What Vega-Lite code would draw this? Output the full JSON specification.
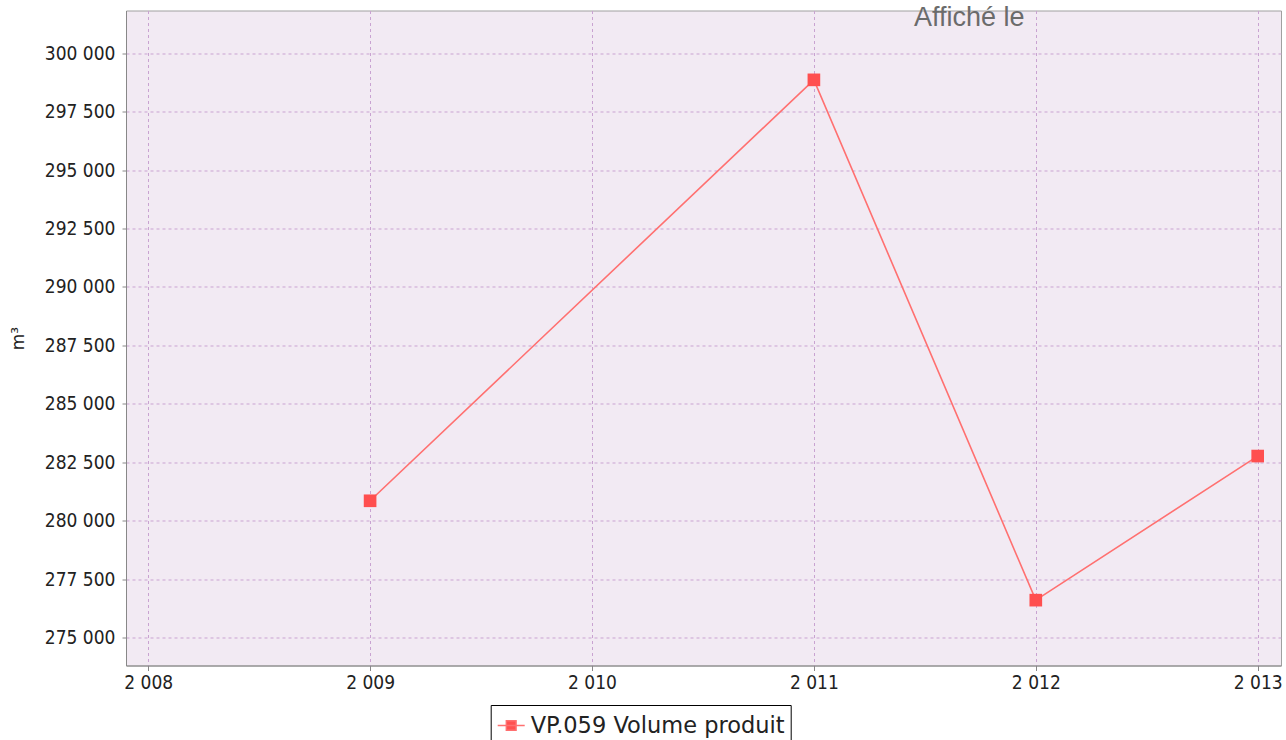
{
  "$schema": "https://vega.github.io/schema/vega-lite/v6.json",
  "width": 1155,
  "height": 655,
  "autosize": {"type": "none"},
  "padding": {"left": 126, "top": 10.5, "right": 5, "bottom": 74.5},
  "background": "white",
  "title": {
    "text": "Affiché le",
    "anchor": "start",
    "frame": "group",
    "orient": "top",
    "baseline": "alphabetic",
    "offset": -16,
    "dx": 788,
    "dy": 26,
    "font": "Liberation Sans",
    "fontSize": 27,
    "fontWeight": "normal",
    "color": "#6b6b6b"
  },
  "data": {
    "values": [
      {"annee": 2009, "volume": 280848, "serie": "VP.059 Volume produit"},
      {"annee": 2011, "volume": 298857, "serie": "VP.059 Volume produit"},
      {"annee": 2012, "volume": 276597, "serie": "VP.059 Volume produit"},
      {"annee": 2013, "volume": 282762, "serie": "VP.059 Volume produit"}
    ]
  },
  "encoding": {
    "x": {
      "field": "annee",
      "type": "quantitative",
      "scale": {"domain": [2007.9, 2013.105], "nice": false, "zero": false},
      "axis": {
        "values": [2008, 2009, 2010, 2011, 2012, 2013],
        "labelExpr": "replace(format(datum.value, ',d'), ',', ' ')",
        "title": null,
        "tickSize": 5,
        "labelPadding": 3,
        "labelFlush": false,
        "labelOverlap": false
      }
    },
    "y": {
      "field": "volume",
      "type": "quantitative",
      "scale": {"domain": [273801, 301824], "nice": false, "zero": false},
      "axis": {
        "values": [275000, 277500, 280000, 282500, 285000, 287500, 290000, 292500, 295000, 297500, 300000],
        "labelExpr": "replace(format(datum.value, ',d'), ',', ' ')",
        "title": "m³",
        "titleX": -99,
        "titleFontSize": 17,
        "titleFontWeight": "normal",
        "titleFont": "DejaVu Sans",
        "titleColor": "#222",
        "tickSize": 4,
        "labelPadding": 7
      }
    }
  },
  "layer": [
    {
      "mark": {"type": "line", "strokeWidth": 1.6},
      "encoding": {
        "color": {
          "field": "serie",
          "type": "nominal",
          "scale": {"range": ["#ff7070"]},
          "legend": {
            "title": null,
            "orient": "none",
            "legendX": 364.7,
            "legendY": 694.5,
            "strokeColor": "#000",
            "fillColor": "white",
            "padding": 6,
            "symbolType": "M -1 0 L 1 0 M -0.36 -0.36 L 0.36 -0.36 L 0.36 0.36 L -0.36 0.36 Z",
            "symbolSize": 729,
            "symbolStrokeWidth": 1.5,
            "symbolFillColor": "#ff5050",
            "labelFont": "DejaVu Sans",
            "labelFontSize": 22.5,
            "labelColor": "#222",
            "labelOffset": 5,
            "labelLimit": 400,
            "encode": {
              "symbols": {
                "update": {
                  "fill": {"value": "#ff5050"},
                  "stroke": {"value": "#ff6a6a"},
                  "strokeWidth": {"value": 1.5},
                  "opacity": {"value": 1}
                }
              }
            }
          }
        }
      }
    },
    {
      "mark": {"type": "point", "shape": "square", "size": 160, "filled": true, "opacity": 1, "color": "#ff4f4f"}
    }
  ],
  "config": {
    "view": {"fill": "#f2eaf3", "stroke": "#a0a0a0", "strokeWidth": 1},
    "axis": {
      "labelFont": "DejaVu Sans Condensed",
      "labelFontSize": 19,
      "labelColor": "#222",
      "domainColor": "#888",
      "tickColor": "#888",
      "gridColor": "#c9a3d1",
      "gridDash": [3, 3],
      "gridWidth": 1,
      "gridOpacity": 1
    }
  }
}
